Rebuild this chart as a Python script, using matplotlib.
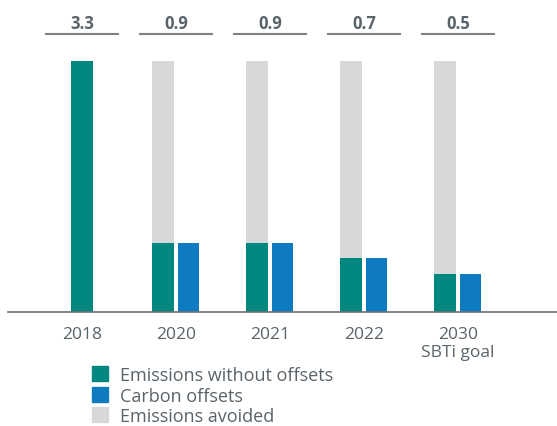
import numpy as np
import matplotlib.pyplot as plt
from matplotlib.patches import Patch

plt.rcParams['font.family'] = ['Open Sans', 'DejaVu Sans']

# Data
years = ['2018', '2020', '2021', '2022', '2030\nSBTi goal']
total = [3.3, 3.3, 3.3, 3.3, 3.3]
without_offsets = [3.3, 0.9, 0.9, 0.7, 0.5]
carbon_offsets = [0, 0.9, 0.9, 0.7, 0.5]
top_labels = ['3.3', '0.9', '0.9', '0.7', '0.5']

green = '#00877f'
blue = '#0e7bc0'
grey = '#d7d8da'
text_col = '#59636a'

x = np.arange(len(years))
w = 0.234
off = 0.133

fig = plt.figure(figsize=(5.57, 4.27), dpi=100)
ax = fig.add_axes([8 / 557, 114.5 / 427, 549 / 557, 312.5 / 427])

# 2018 only has one bar, centered
gx = np.where(x == 0, x, x - off)
avoided = [t - g for t, g in zip(total, without_offsets)]
ax.bar(gx, without_offsets, w, color=green)
ax.bar(gx, avoided, w, bottom=without_offsets, color=grey)
ax.bar(x[1:] + off, carbon_offsets[1:], w, color=blue)

ymax = 3.3 * 312.5 / 250.5
ax.set_ylim(0, ymax)
ax.set_xlim((8 - 82) / 94, (557 - 82) / 94)

for i, lab in enumerate(top_labels):
    ax.plot([i - 0.378, i + 0.378], [3.656, 3.656], color='#7a8288', lw=1.5, clip_on=False)
    ax.text(i, 3.80, lab, ha='center', va='center', fontsize=12,
            fontweight='bold', color=text_col)

ax.set_xticks(x, years)
ax.tick_params(axis='x', length=0, pad=10.5, labelsize=12.5, labelcolor=text_col)
for t in ax.get_xticklabels():
    t.set_linespacing(1.15)
ax.set_yticks([])
for s in ['top', 'right', 'left']:
    ax.spines[s].set_visible(False)
ax.spines['bottom'].set_color('#6b7379')
ax.spines['bottom'].set_linewidth(1.2)

handles = [Patch(color=green, label='Emissions without offsets'),
           Patch(color=blue, label='Carbon offsets'),
           Patch(color=grey, label='Emissions avoided')]
leg = fig.legend(handles=handles, loc='upper left', bbox_to_anchor=(92 / 557, 1 - 367 / 427),
                 frameon=False, fontsize=13, handlelength=0.9, handleheight=0.9,
                 handletextpad=0.65, labelspacing=0.14, borderaxespad=0, borderpad=0)
for t in leg.get_texts():
    t.set_color(text_col)

fig.savefig('out.png', dpi=100)
